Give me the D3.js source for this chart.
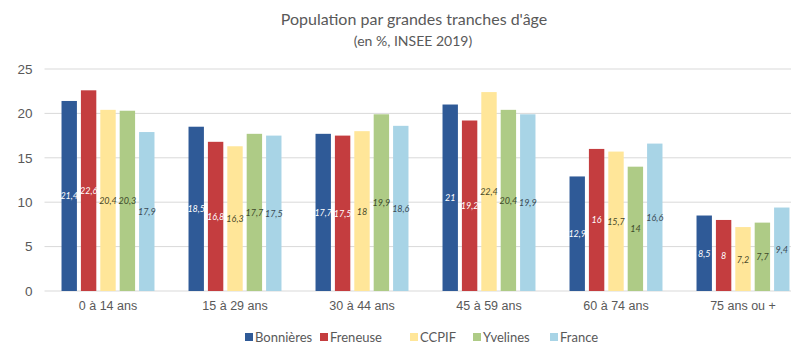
<!DOCTYPE html>
<html>
<head>
<meta charset="utf-8">
<script src="https://cdn.jsdelivr.net/npm/d3@7"></script>
<style>
  body { margin: 0; background: #fff; }
  svg { font-family: Lato, "Open Sans", sans-serif; }
</style>
</head>
<body>
<svg id="chart" width="791" height="349"></svg>
<script>
// Age groups and series (share of population, %)
const categories = ["0 à 14 ans", "15 à 29 ans", "30 à 44 ans", "45 à 59 ans", "60 à 74 ans", "75 ans ou +"];
const seriesNames = ["Bonnières", "Freneuse", "CCPIF", "Yvelines", "France"];
const bonnieres = [21.4, 18.5, 17.7, 21, 12.9, 8.5];
const freneuse  = [22.6, 16.8, 17.5, 19.2, 16, 8];
const ccpif     = [20.4, 16.3, 18, 22.4, 15.7, 7.2];
const yvelines  = [20.3, 17.7, 19.9, 20.4, 14, 7.7];
const france    = [17.9, 17.5, 18.6, 19.9, 16.6, 9.4];
const yTicks = [0, 5, 10, 15, 20, 25];

const seriesValues = [bonnieres, freneuse, ccpif, yvelines, france];
const colors = ["#2F5A97", "#C43D3F", "#FFE699", "#AECB86", "#A8D4E6"];
const labelColors = ["#ffffff", "#ffffff", "#4a4a2a", "#3d4a2a", "#3a4a55"];

const svg = d3.select("#chart");
const W = 791, H = 349;
const plotLeft = 44.5, plotRight = 806.5, plotTop = 69, plotBottom = 291;

// The plot area runs a little past the right edge of the canvas
const x0 = d3.scaleBand().domain(categories).range([plotLeft, plotRight]).paddingInner(0.268).paddingOuter(0.134);
const x1 = d3.scaleBand().domain(seriesNames).range([0, x0.bandwidth()]).paddingInner(0.206);
const y = d3.scaleLinear().domain([0, 25]).range([plotBottom, plotTop]);

// Horizontal gridlines
svg.append("g").selectAll("line").data(yTicks).join("line")
  .attr("x1", plotLeft).attr("x2", plotRight)
  .attr("y1", d => y(d)).attr("y2", d => y(d))
  .attr("stroke", "#d9d9d9").attr("stroke-width", 1);

// Y axis labels
const yAxis = svg.append("g").attr("transform", `translate(${plotLeft - 12},0)`)
  .call(d3.axisLeft(y).tickValues(yTicks).tickSize(0).tickPadding(0));
yAxis.select(".domain").remove();
yAxis.selectAll("text").attr("fill", "#595959").style("font-size", "13.5px");

// X axis labels
const xAxis = svg.append("g").attr("transform", `translate(0,${y(0)})`)
  .call(d3.axisBottom(x0).tickSize(0).tickPadding(10));
xAxis.select(".domain").remove();
xAxis.selectAll("text").attr("fill", "#595959").style("font-size", "12.5px");

// Bars
const rows = categories.map((c, i) => ({ cat: c, vals: seriesNames.map((s, j) => ({ s, j, v: seriesValues[j][i] })) }));
const groups = svg.append("g").selectAll("g").data(rows).join("g")
  .attr("transform", d => `translate(${x0(d.cat)},0)`);

groups.selectAll("rect").data(d => d.vals).join("rect")
  .attr("x", d => x1(d.s)).attr("width", x1.bandwidth())
  .attr("y", d => y(d.v)).attr("height", d => y(0) - y(d.v))
  .attr("fill", d => colors[d.j]);

// Value labels, centred in each bar
groups.selectAll("text.val").data(d => d.vals).join("text")
  .attr("class", "val")
  .attr("x", d => x1(d.s) + x1.bandwidth() / 2)
  .attr("y", d => (y(d.v) + y(0)) / 2 + 3.5)
  .attr("text-anchor", "middle")
  .style("font-size", "9px").style("font-style", "italic")
  .attr("fill", d => labelColors[d.j])
  .text(d => String(d.v).replace(".", ","));

// Title
svg.append("text").attr("x", 414).attr("y", 25).attr("text-anchor", "middle")
  .attr("fill", "#595959").style("font-size", "16px").text("Population par grandes tranches d'âge");
svg.append("text").attr("x", 413).attr("y", 46).attr("text-anchor", "middle")
  .attr("fill", "#595959").style("font-size", "14px").text("(en %, INSEE 2019)");

// Legend
const legendX = [245, 320, 410, 473, 550];
const legend = svg.append("g").selectAll("g").data(seriesNames).join("g")
  .attr("transform", (d, i) => `translate(${legendX[i]},341)`);
legend.append("rect").attr("x", 0).attr("y", -8).attr("width", 8).attr("height", 8)
  .attr("fill", (d, i) => colors[i]);
legend.append("text").attr("x", 10).attr("y", 1).attr("fill", "#595959")
  .style("font-size", "13px").text(d => d);
</script>
</body>
</html>
